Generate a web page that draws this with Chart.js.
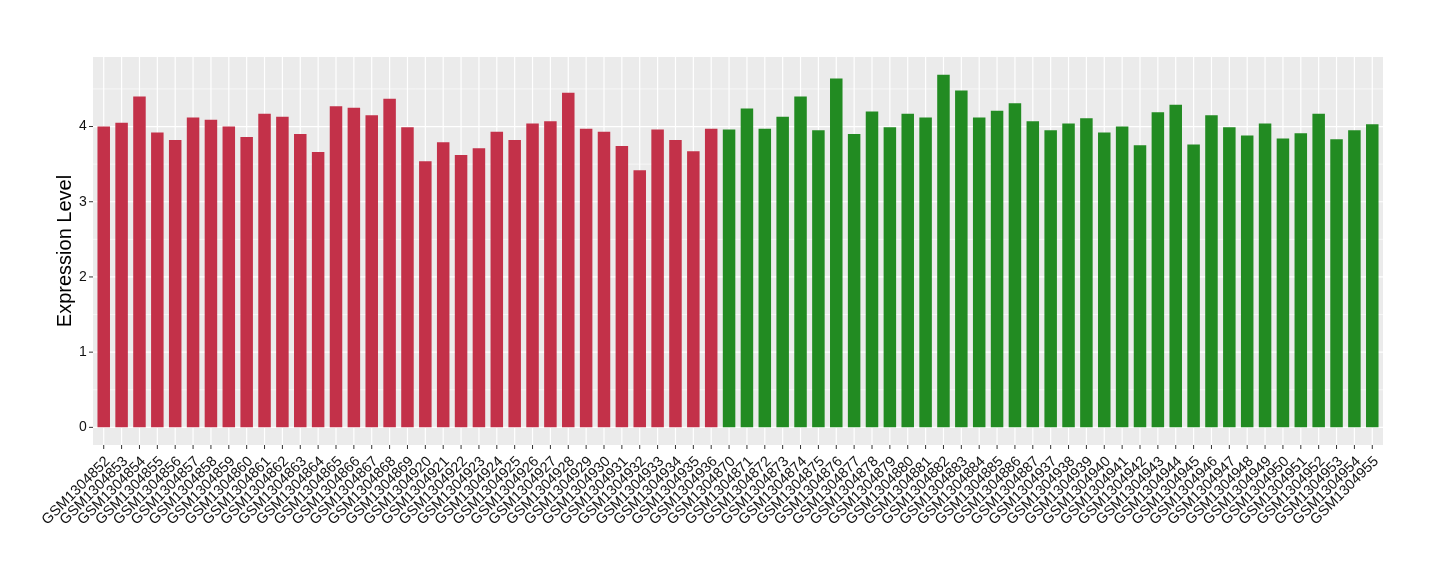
<!DOCTYPE html>
<html>
<head>
<meta charset="utf-8">
<script src="https://cdn.jsdelivr.net/npm/chart.js@4.4.1/dist/chart.umd.min.js"></script>
<style>
  html, body { margin: 0; padding: 0; background: #fff; }
  #wrap { width: 1440px; height: 580px; }
</style>
</head>
<body>
<div id="wrap"><canvas id="exprChart" width="1440" height="580"></canvas></div>
<script>
// first group (red)
const redSamples = [
    'GSM1304852', 'GSM1304853', 'GSM1304854', 'GSM1304855', 'GSM1304856', 'GSM1304857',
    'GSM1304858', 'GSM1304859', 'GSM1304860', 'GSM1304861', 'GSM1304862', 'GSM1304863',
    'GSM1304864', 'GSM1304865', 'GSM1304866', 'GSM1304867', 'GSM1304868', 'GSM1304869',
    'GSM1304920', 'GSM1304921', 'GSM1304922', 'GSM1304923', 'GSM1304924', 'GSM1304925',
    'GSM1304926', 'GSM1304927', 'GSM1304928', 'GSM1304929', 'GSM1304930', 'GSM1304931',
    'GSM1304932', 'GSM1304933', 'GSM1304934', 'GSM1304935', 'GSM1304936'
];
const redValues = [
    4.00, 4.05, 4.40, 3.92, 3.82, 4.12, 4.09, 4.00, 3.86, 4.17, 4.13, 3.90,
    3.66, 4.27, 4.25, 4.15, 4.37, 3.99, 3.54, 3.79, 3.62, 3.71, 3.93, 3.82,
    4.04, 4.07, 4.45, 3.97, 3.93, 3.74, 3.42, 3.96, 3.82, 3.67, 3.97
];

// second group (green)
const greenSamples = [
    'GSM1304870', 'GSM1304871', 'GSM1304872', 'GSM1304873', 'GSM1304874', 'GSM1304875',
    'GSM1304876', 'GSM1304877', 'GSM1304878', 'GSM1304879', 'GSM1304880', 'GSM1304881',
    'GSM1304882', 'GSM1304883', 'GSM1304884', 'GSM1304885', 'GSM1304886', 'GSM1304887',
    'GSM1304937', 'GSM1304938', 'GSM1304939', 'GSM1304940', 'GSM1304941', 'GSM1304942',
    'GSM1304943', 'GSM1304944', 'GSM1304945', 'GSM1304946', 'GSM1304947', 'GSM1304948',
    'GSM1304949', 'GSM1304950', 'GSM1304951', 'GSM1304952', 'GSM1304953', 'GSM1304954',
    'GSM1304955'
];
const greenValues = [
    3.96, 4.24, 3.97, 4.13, 4.40, 3.95, 4.64, 3.90, 4.20, 3.99, 4.17, 4.12,
    4.69, 4.48, 4.12, 4.21, 4.31, 4.07, 3.95, 4.04, 4.11, 3.92, 4.00, 3.75,
    4.19, 4.29, 3.76, 4.15, 3.99, 3.88, 4.04, 3.84, 3.91, 4.17, 3.83, 3.95,
    4.03
];

const yTicks = [0, 1, 2, 3, 4];
const yMinorTicks = [0.5, 1.5, 2.5, 3.5, 4.5];

const samples = redSamples.concat(greenSamples);
const values = redValues.concat(greenValues);
const barColors = samples.map((s, i) => i < redSamples.length ? '#C33149' : '#228B22');

const FONT = '"Liberation Sans", Arial, sans-serif';

const drawLine = (ctx, x1, y1, x2, y2) => {
    ctx.beginPath();
    ctx.moveTo(x1, y1);
    ctx.lineTo(x2, y2);
    ctx.stroke();
};

// grey panel + white grid, like ggplot's default theme
const panelPlugin = {
    id: 'ggPanel',
    beforeDraw(chart) {
        const { ctx, chartArea, scales } = chart;
        const xs = scales.x, ys = scales.y;
        const step = xs.getPixelForValue(1) - xs.getPixelForValue(0);
        const left = chartArea.left - step * 0.1;
        const right = chartArea.right + step * 0.1;
        const top = chartArea.top, bottom = chartArea.bottom;

        ctx.save();
        ctx.fillStyle = '#EBEBEB';
        ctx.fillRect(left, top, right - left, bottom - top);

        ctx.strokeStyle = '#FFFFFF';
        ctx.lineWidth = 0.6;
        yMinorTicks.forEach(v => {
            const py = ys.getPixelForValue(v);
            drawLine(ctx, left, py, right, py);
        });
        ctx.lineWidth = 1.2;
        yTicks.forEach(v => {
            const py = ys.getPixelForValue(v);
            drawLine(ctx, left, py, right, py);
        });
        samples.forEach((s, i) => {
            const px = xs.getPixelForValue(i);
            drawLine(ctx, px, top, px, bottom);
        });

        // tick marks
        ctx.strokeStyle = '#333333';
        ctx.lineWidth = 1;
        yTicks.forEach(v => {
            const py = ys.getPixelForValue(v);
            drawLine(ctx, left - 4, py, left, py);
        });
        samples.forEach((s, i) => {
            const px = xs.getPixelForValue(i);
            drawLine(ctx, px, bottom, px, bottom + 4);
        });
        ctx.restore();
    }
};

new Chart(document.getElementById('exprChart'), {
    type: 'bar',
    data: {
        labels: samples,
        datasets: [{
            label: 'Expression',
            data: values,
            backgroundColor: barColors,
            borderWidth: 0,
            categoryPercentage: 1.0,
            barPercentage: 0.7
        }]
    },
    options: {
        responsive: false,
        animation: false,
        devicePixelRatio: 1,
        layout: {
            padding: { top: 57, right: 58.8, bottom: 0, left: 0 }
        },
        plugins: {
            legend: { display: false },
            tooltip: { enabled: false }
        },
        scales: {
            x: {
                grid: { display: false },
                border: { display: false },
                ticks: {
                    autoSkip: false,
                    maxRotation: 45,
                    minRotation: 45,
                    padding: 0,
                    labelOffset: 4,
                    color: '#111111',
                    font: { family: FONT, size: 14.5 }
                },
                afterFit: (scale) => { scale.height = 135; }
            },
            y: {
                min: -0.2345,
                max: 4.9245,
                grid: { display: false },
                border: { display: false },
                afterBuildTicks: (scale) => {
                    scale.ticks = yTicks.map(v => ({ value: v }));
                },
                ticks: {
                    padding: 0,
                    color: '#111111',
                    font: { family: FONT, size: 14 }
                },
                title: {
                    display: true,
                    text: 'Expression Level',
                    color: '#000000',
                    font: { family: FONT, size: 20 },
                    padding: { top: 53, bottom: 0 }
                },
                afterFit: (scale) => { scale.width = 94.8; }
            }
        }
    },
    plugins: [panelPlugin]
});
</script>
</body>
</html>
